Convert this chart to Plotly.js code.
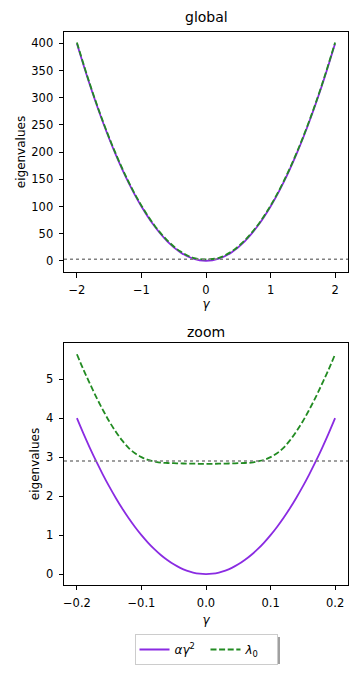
<!DOCTYPE html>
<html>
<head>
<meta charset="utf-8">
<script src="https://cdn.plot.ly/plotly-3.0.1.min.js"></script>
<style>
  html, body { margin: 0; padding: 0; background: #fff; }
  #chart { width: 361px; height: 677px; }
</style>
</head>
<body>
<div id="chart"></div>
<script>
// global view: gamma from -2 to 2
const gammaGlobal = [-2.0, -1.8, -1.6, -1.4, -1.2, -1.0, -0.8, -0.6, -0.4, -0.2, 0.0,
                     0.2, 0.4, 0.6, 0.8, 1.0, 1.2, 1.4, 1.6, 1.8, 2.0];
const alphaGlobal = [400, 324, 256, 196, 144, 100, 64, 36, 16, 4, 0,
                     4, 16, 36, 64, 100, 144, 196, 256, 324, 400];
const lambdaGlobal = [401.6, 325.6, 257.6, 197.6, 145.6, 101.6, 65.6, 37.6, 17.6, 5.6, 2.8,
                      5.6, 17.6, 37.6, 65.6, 101.6, 145.6, 197.6, 257.6, 325.6, 401.6];

// zoom view: gamma from -0.2 to 0.2
const gammaZoom = [-0.20, -0.19, -0.18, -0.17, -0.16, -0.15, -0.14, -0.13, -0.12, -0.11, -0.10,
                   -0.09, -0.08, -0.07, -0.06, -0.05, -0.04, -0.03, -0.02, -0.01, 0.00,
                   0.01, 0.02, 0.03, 0.04, 0.05, 0.06, 0.07, 0.08, 0.09, 0.10,
                   0.11, 0.12, 0.13, 0.14, 0.15, 0.16, 0.17, 0.18, 0.19, 0.20];
const alphaZoom = [4.00, 3.61, 3.24, 2.89, 2.56, 2.25, 1.96, 1.69, 1.44, 1.21, 1.00,
                   0.81, 0.64, 0.49, 0.36, 0.25, 0.16, 0.09, 0.04, 0.01, 0.00,
                   0.01, 0.04, 0.09, 0.16, 0.25, 0.36, 0.49, 0.64, 0.81, 1.00,
                   1.21, 1.44, 1.69, 1.96, 2.25, 2.56, 2.89, 3.24, 3.61, 4.00];
const lambdaZoom = [5.64, 5.25, 4.89, 4.54, 4.22, 3.92, 3.66, 3.43, 3.24, 3.10, 3.00,
                    2.93, 2.89, 2.86, 2.85, 2.845, 2.84, 2.835, 2.833, 2.83, 2.83,
                    2.83, 2.833, 2.835, 2.84, 2.845, 2.85, 2.86, 2.89, 2.93, 3.00,
                    3.10, 3.24, 3.43, 3.66, 3.92, 4.22, 4.54, 4.89, 5.25, 5.64];

const thresholdLevel = 2.9;
const subplotTitles = ['global', 'zoom'];
const legendNames = ['<i>αγ</i><sup>2</sup>', '<i>λ</i><sub>0</sub>'];

const purple = '#8a2be2';
const green = '#228b22';
const font = 'DejaVu Sans, sans-serif';

const traces = [
    {
        x: gammaGlobal, y: alphaGlobal, xaxis: 'x', yaxis: 'y',
        mode: 'lines', line: { color: purple, width: 1.8, shape: 'spline' },
        name: legendNames[0], legendgroup: 'a', showlegend: true
    },
    {
        x: gammaGlobal, y: lambdaGlobal, xaxis: 'x', yaxis: 'y',
        mode: 'lines', line: { color: green, width: 1.8, dash: '6px,2.6px', shape: 'spline' },
        name: legendNames[1], legendgroup: 'b', showlegend: true
    },
    {
        x: gammaZoom, y: alphaZoom, xaxis: 'x2', yaxis: 'y2',
        mode: 'lines', line: { color: purple, width: 1.8, shape: 'spline' },
        name: legendNames[0], legendgroup: 'a', showlegend: false
    },
    {
        x: gammaZoom, y: lambdaZoom, xaxis: 'x2', yaxis: 'y2',
        mode: 'lines', line: { color: green, width: 1.8, dash: '6px,2.6px', shape: 'spline' },
        name: legendNames[1], legendgroup: 'b', showlegend: false
    }
];

// matplotlib-like axis
function axisStyle(extra) {
    return Object.assign({
        showline: true, mirror: true, linecolor: '#000', linewidth: 1,
        showgrid: false, zeroline: false,
        ticks: 'outside', ticklen: 4.5, tickwidth: 1, tickcolor: '#000',
        ticklabelstandoff: 3,
        tickfont: { family: font, size: 11.5, color: '#000' }
    }, extra);
}

const layout = {
    width: 361, height: 677,
    margin: { l: 0, r: 0, t: 0, b: 0 },
    paper_bgcolor: '#fff', plot_bgcolor: '#fff',
    font: { family: font, color: '#000' },
    xaxis: axisStyle({
        domain: [0.1773, 0.964], anchor: 'y', range: [-2.2, 2.2],
        tickvals: [-2, -1, 0, 1, 2],
        title: { text: '<i>γ</i>', font: { family: font, size: 12 }, standoff: 2 }
    }),
    yaxis: axisStyle({
        domain: [0.5982, 0.9527], anchor: 'x', range: [-20.5, 421],
        tickvals: [0, 50, 100, 150, 200, 250, 300, 350, 400],
        title: { text: 'eigenvalues', font: { family: font, size: 12 }, standoff: 3 }
    }),
    xaxis2: axisStyle({
        domain: [0.1773, 0.964], anchor: 'y2', range: [-0.22, 0.22],
        tickvals: [-0.2, -0.1, 0, 0.1, 0.2], tickformat: '.1f',
        title: { text: '<i>γ</i>', font: { family: font, size: 12 }, standoff: 6 }
    }),
    yaxis2: axisStyle({
        domain: [0.1359, 0.4934], anchor: 'x2', range: [-0.28, 5.93],
        tickvals: [0, 1, 2, 3, 4, 5],
        title: { text: 'eigenvalues', font: { family: font, size: 12 }, standoff: 3 }
    }),
    shapes: [
        {
            type: 'line', xref: 'x domain', yref: 'y', x0: 0, x1: 1,
            y0: thresholdLevel, y1: thresholdLevel,
            line: { color: 'gray', width: 1.5, dash: 'dot' }
        },
        {
            type: 'line', xref: 'x2 domain', yref: 'y2', x0: 0, x1: 1,
            y0: thresholdLevel, y1: thresholdLevel,
            line: { color: 'gray', width: 1.5, dash: 'dot' }
        },
        // legend shadow
        {
            type: 'rect', xref: 'paper', yref: 'paper',
            x0: 139 / 361, x1: 280 / 361, y0: 1 - 664 / 677, y1: 1 - 637 / 677,
            fillcolor: '#a0a0a0', line: { width: 0 }, layer: 'above'
        }
    ],
    annotations: [
        {
            text: subplotTitles[0], xref: 'paper', yref: 'paper',
            x: 206 / 361, y: 1 - 17 / 677, showarrow: false,
            xanchor: 'center', yanchor: 'middle',
            font: { family: font, size: 14, color: '#000' }
        },
        {
            text: subplotTitles[1], xref: 'paper', yref: 'paper',
            x: 206 / 361, y: 1 - 332 / 677, showarrow: false,
            xanchor: 'center', yanchor: 'middle',
            font: { family: font, size: 14, color: '#000' }
        }
    ],
    legend: {
        orientation: 'h', x: 206 / 361, xanchor: 'center',
        y: 1 - 634 / 677, yanchor: 'top',
        bgcolor: '#fff', bordercolor: '#ccc', borderwidth: 1,
        font: { family: font, size: 12, color: '#000' },
        entrywidth: 26, tracegroupgap: 0
    },
    showlegend: true
};

Plotly.newPlot('chart', traces, layout, { staticPlot: true, displayModeBar: false });
</script>
</body>
</html>
